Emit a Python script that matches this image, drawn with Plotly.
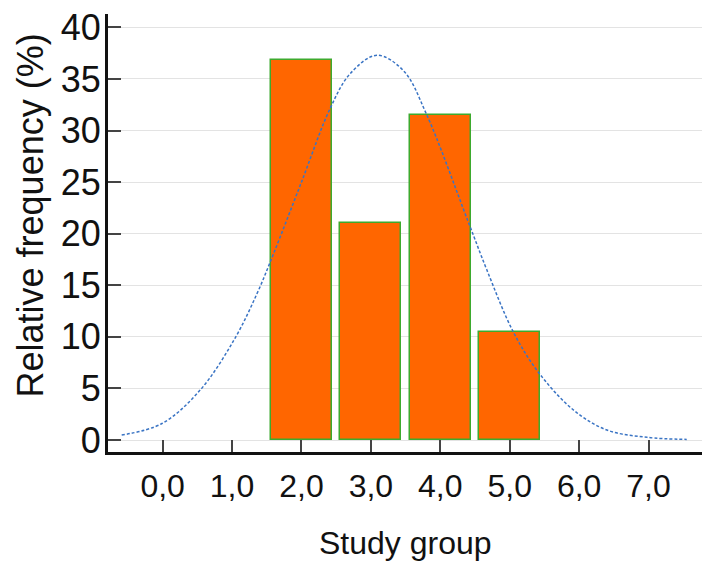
import plotly.graph_objects as go

# Bars (study group vs relative frequency %)
groups = [2, 3, 4, 5]
freq = [36.8, 21.0, 31.5, 10.5]

# Fitted normal curve
curve_x = [-0.59, -0.01, 0.54, 1.04, 1.36, 1.6, 2.0, 2.41, 2.7, 3.085, 3.47, 3.8, 4.4, 4.67, 5.05, 5.41, 5.92, 6.4, 6.98, 7.55]
curve_y = [0.48, 1.6, 4.84, 9.84, 14.2, 18.1, 25.0, 32.1, 35.5, 37.3, 35.8, 31.6, 21.2, 16.5, 10.5, 6.6, 2.9, 0.97, 0.26, 0.06]

x_tickvals = [0, 1, 2, 3, 4, 5, 6, 7]
x_ticktext = ["0,0", "1,0", "2,0", "3,0", "4,0", "5,0", "6,0", "7,0"]
y_tickvals = [0, 5, 10, 15, 20, 25, 30, 35, 40]

x_title = "Study group"
y_title = "Relative frequency (%)"

FONT = "Liberation Sans, Arial, sans-serif"
TXT = "#111111"

fig = go.Figure()
fig.add_trace(go.Bar(
    x=groups, y=freq, width=0.88,
    marker=dict(color="#FF6600", line=dict(color="#3DAA2E", width=1.5)),
    showlegend=False,
))
fig.add_trace(go.Scatter(
    x=curve_x, y=curve_y, mode="lines",
    line=dict(color="#3A74C4", width=1.5, dash="3px,2px", shape="spline", smoothing=1.0),
    showlegend=False,
))

fig.update_layout(
    width=702, height=554,
    margin=dict(l=100, r=8, t=6, b=110),
    paper_bgcolor="white", plot_bgcolor="white",
    font=dict(family=FONT, color=TXT),
    bargap=0,
    xaxis=dict(
        range=[-0.787, 7.77],
        tickvals=x_tickvals, ticktext=x_ticktext,
        ticks="inside", ticklen=12, tickwidth=1.5, tickcolor="#444444",
        tickfont=dict(size=32, family=FONT, color=TXT),
        ticklabelstandoff=4, ticklabeloverflow="allow",
        showline=True, linecolor="#111111", linewidth=3,
        showgrid=False, zeroline=False, automargin=False,
    ),
    yaxis=dict(
        range=[-1.16, 41.3],
        tickvals=y_tickvals,
        ticks="inside", ticklen=13, tickwidth=1.5, tickcolor="#444444",
        tickfont=dict(size=36, family=FONT, color=TXT),
        ticklabelstandoff=-3, ticklabeloverflow="allow",
        showline=True, linecolor="#111111", linewidth=3,
        showgrid=True, gridcolor="#E3E3E3", gridwidth=1,
        zeroline=False, automargin=False,
    ),
    annotations=[
        dict(text=y_title, textangle=-90, xref="paper", yref="paper",
             x=-0.1313, y=0.54, xanchor="center", yanchor="middle",
             showarrow=False, font=dict(size=36, family=FONT, color=TXT)),
        dict(text=x_title, xref="paper", yref="paper",
             x=0.5, y=-0.207, xanchor="center", yanchor="middle",
             showarrow=False, font=dict(size=32, family=FONT, color=TXT)),
    ],
)

fig.write_html("out.html")
